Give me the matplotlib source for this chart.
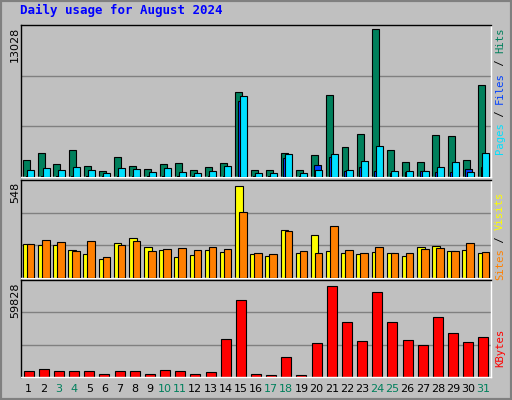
import matplotlib
matplotlib.use("Agg")
import matplotlib.pyplot as plt
from matplotlib.patches import Rectangle

days = list(range(1, 32))
weekend = [3, 4, 10, 11, 17, 18, 24, 25, 31]
hits = [1480, 2102, 1125, 2369, 947, 503, 1747, 947, 681, 1125, 1214, 592, 859, 1214, 7461,
        592, 592, 2102, 592, 1925, 7254, 2635, 3790, 13028, 2369, 1303, 1303, 3701, 3612, 1480, 8142]
files = [592, 770, 592, 859, 592, 326, 770, 681, 415, 770, 415, 326, 503, 947, 7165,
         326, 326, 2013, 326, 592, 2013, 592, 1392, 2724, 503, 503, 503, 859, 1303, 415, 2102]
pages = [60, 60, 60, 60, 60, 60, 60, 60, 60, 60, 60, 60, 60, 60, 6721,
         60, 60, 1658, 60, 1036, 1747, 503, 859, 503, 326, 415, 503, 415, 415, 681, 859]
visits = [204, 198, 198, 168, 144, 115, 210, 239, 186, 168, 127, 138, 168, 156, 548,
          144, 133, 287, 150, 257, 162, 150, 144, 156, 150, 133, 186, 192, 162, 168, 150]
sites = [204, 227, 216, 162, 222, 127, 198, 222, 162, 174, 180, 168, 186, 174, 394,
         150, 144, 281, 162, 150, 311, 168, 150, 186, 150, 150, 174, 180, 162, 210, 156]
kbytes = [4150, 5460, 4150, 4150, 4150, 2184, 4150, 4150, 2184, 4805, 4150, 2184, 3494, 25116, 50669,
          2184, 1529, 13322, 1529, 22495, 59828, 36254, 23806, 55910, 36254, 24461, 21185, 39530, 29047, 23150, 26426]

W, H = 512, 400
BG = "#c0c0c0"
fig = plt.figure(figsize=(W / 100, H / 100), dpi=100, facecolor=BG)
fig.patches.append(Rectangle((0, 0), 1, 1, transform=fig.transFigure, fill=False,
                             edgecolor="#808080", lw=3))
mono = "DejaVu Sans Mono"

def ax_px(x0, y0, x1, y1):
    return fig.add_axes([x0 / W, 1 - y1 / H, (x1 - x0) / W, (y1 - y0) / H])

def style(ax, top):
    ax.set_facecolor(BG)
    ax.set_xlim(0.5, 31.5)
    ax.set_ylim(0, top)
    for f in (1 / 3, 2 / 3):
        ax.axhline(top * f, color="#808080", lw=1, zorder=0)
    ax.set_xticks([]); ax.set_yticks([])
    for s in ax.spines.values():
        s.set_color("black"); s.set_linewidth(1)
    ax.spines["bottom"].set_color("white"); ax.spines["right"].set_color("white")

kw = dict(edgecolor="black", linewidth=0.8, align="center")

a1 = ax_px(21, 25, 491, 177)
style(a1, 13028 * 151 / 146.7)
a1.bar([d - 0.13 for d in days], hits, width=0.46, color="#00805c", zorder=2, **kw)
a1.bar([d + 0.04 for d in days], pages, width=0.46, color="#0040ff", zorder=3, **kw)
a1.bar([d + 0.15 for d in days], files, width=0.46, color="#00e0ff", zorder=4, **kw)

a2 = ax_px(21, 180, 491, 278)
style(a2, 548 * 98 / 92.3)
a2.bar([d - 0.13 for d in days], visits, width=0.5, color="#ffff00", zorder=2, **kw)
a2.bar([d + 0.13 for d in days], sites, width=0.5, color="#ff8000", zorder=3, **kw)

a3 = ax_px(21, 280, 491, 377)
style(a3, 59828 * 97 / 91.3)
a3.bar(days, kbytes, width=0.66, color="#ff0000", zorder=2, **kw)

for d in days:
    fig.text((21 + (d - 0.5) * 470 / 31) / W, 1 - 389 / H, str(d), ha="center", va="center",
             fontsize=8, color="#00805c" if d in weekend else "black")

fig.text(20 / W, 1 - 10 / H, "Daily usage for August 2024", fontsize=9, fontweight="bold",
         family=mono, color="#0000ff", va="center")

for y, lab in [(25, "13028"), (180, "548"), (280, "59828")]:
    fig.text(15 / W, 1 - (y + 2) / H, lab, rotation=90, fontsize=8, ha="center", va="top")

FS = 7.6
CH = 0.6 * FS * 100 / 72

def right_label(ycenter, parts):
    # parts listed bottom to top
    total = sum(len(p[0]) for p in parts)
    y = ycenter + total * CH / 2
    for txt, col in parts:
        n = len(txt)
        if txt.strip():
            fig.text(500 / W, 1 - (y - n * CH / 2) / H, txt, rotation=90, fontsize=FS, family=mono,
                     color=col, ha="center", va="center")
        y -= n * CH

right_label(91, [("Pages", "#00e0ff"), (" / ", "black"), ("Files", "#0040ff"), (" / ", "black"), ("Hits", "#00805c")])
right_label(236, [("Sites", "#ff8000"), (" / ", "black"), ("Visits", "#ffff00")])
right_label(348, [("KBytes", "#ff0000")])

fig.savefig("out.png", dpi=100, facecolor=BG)
